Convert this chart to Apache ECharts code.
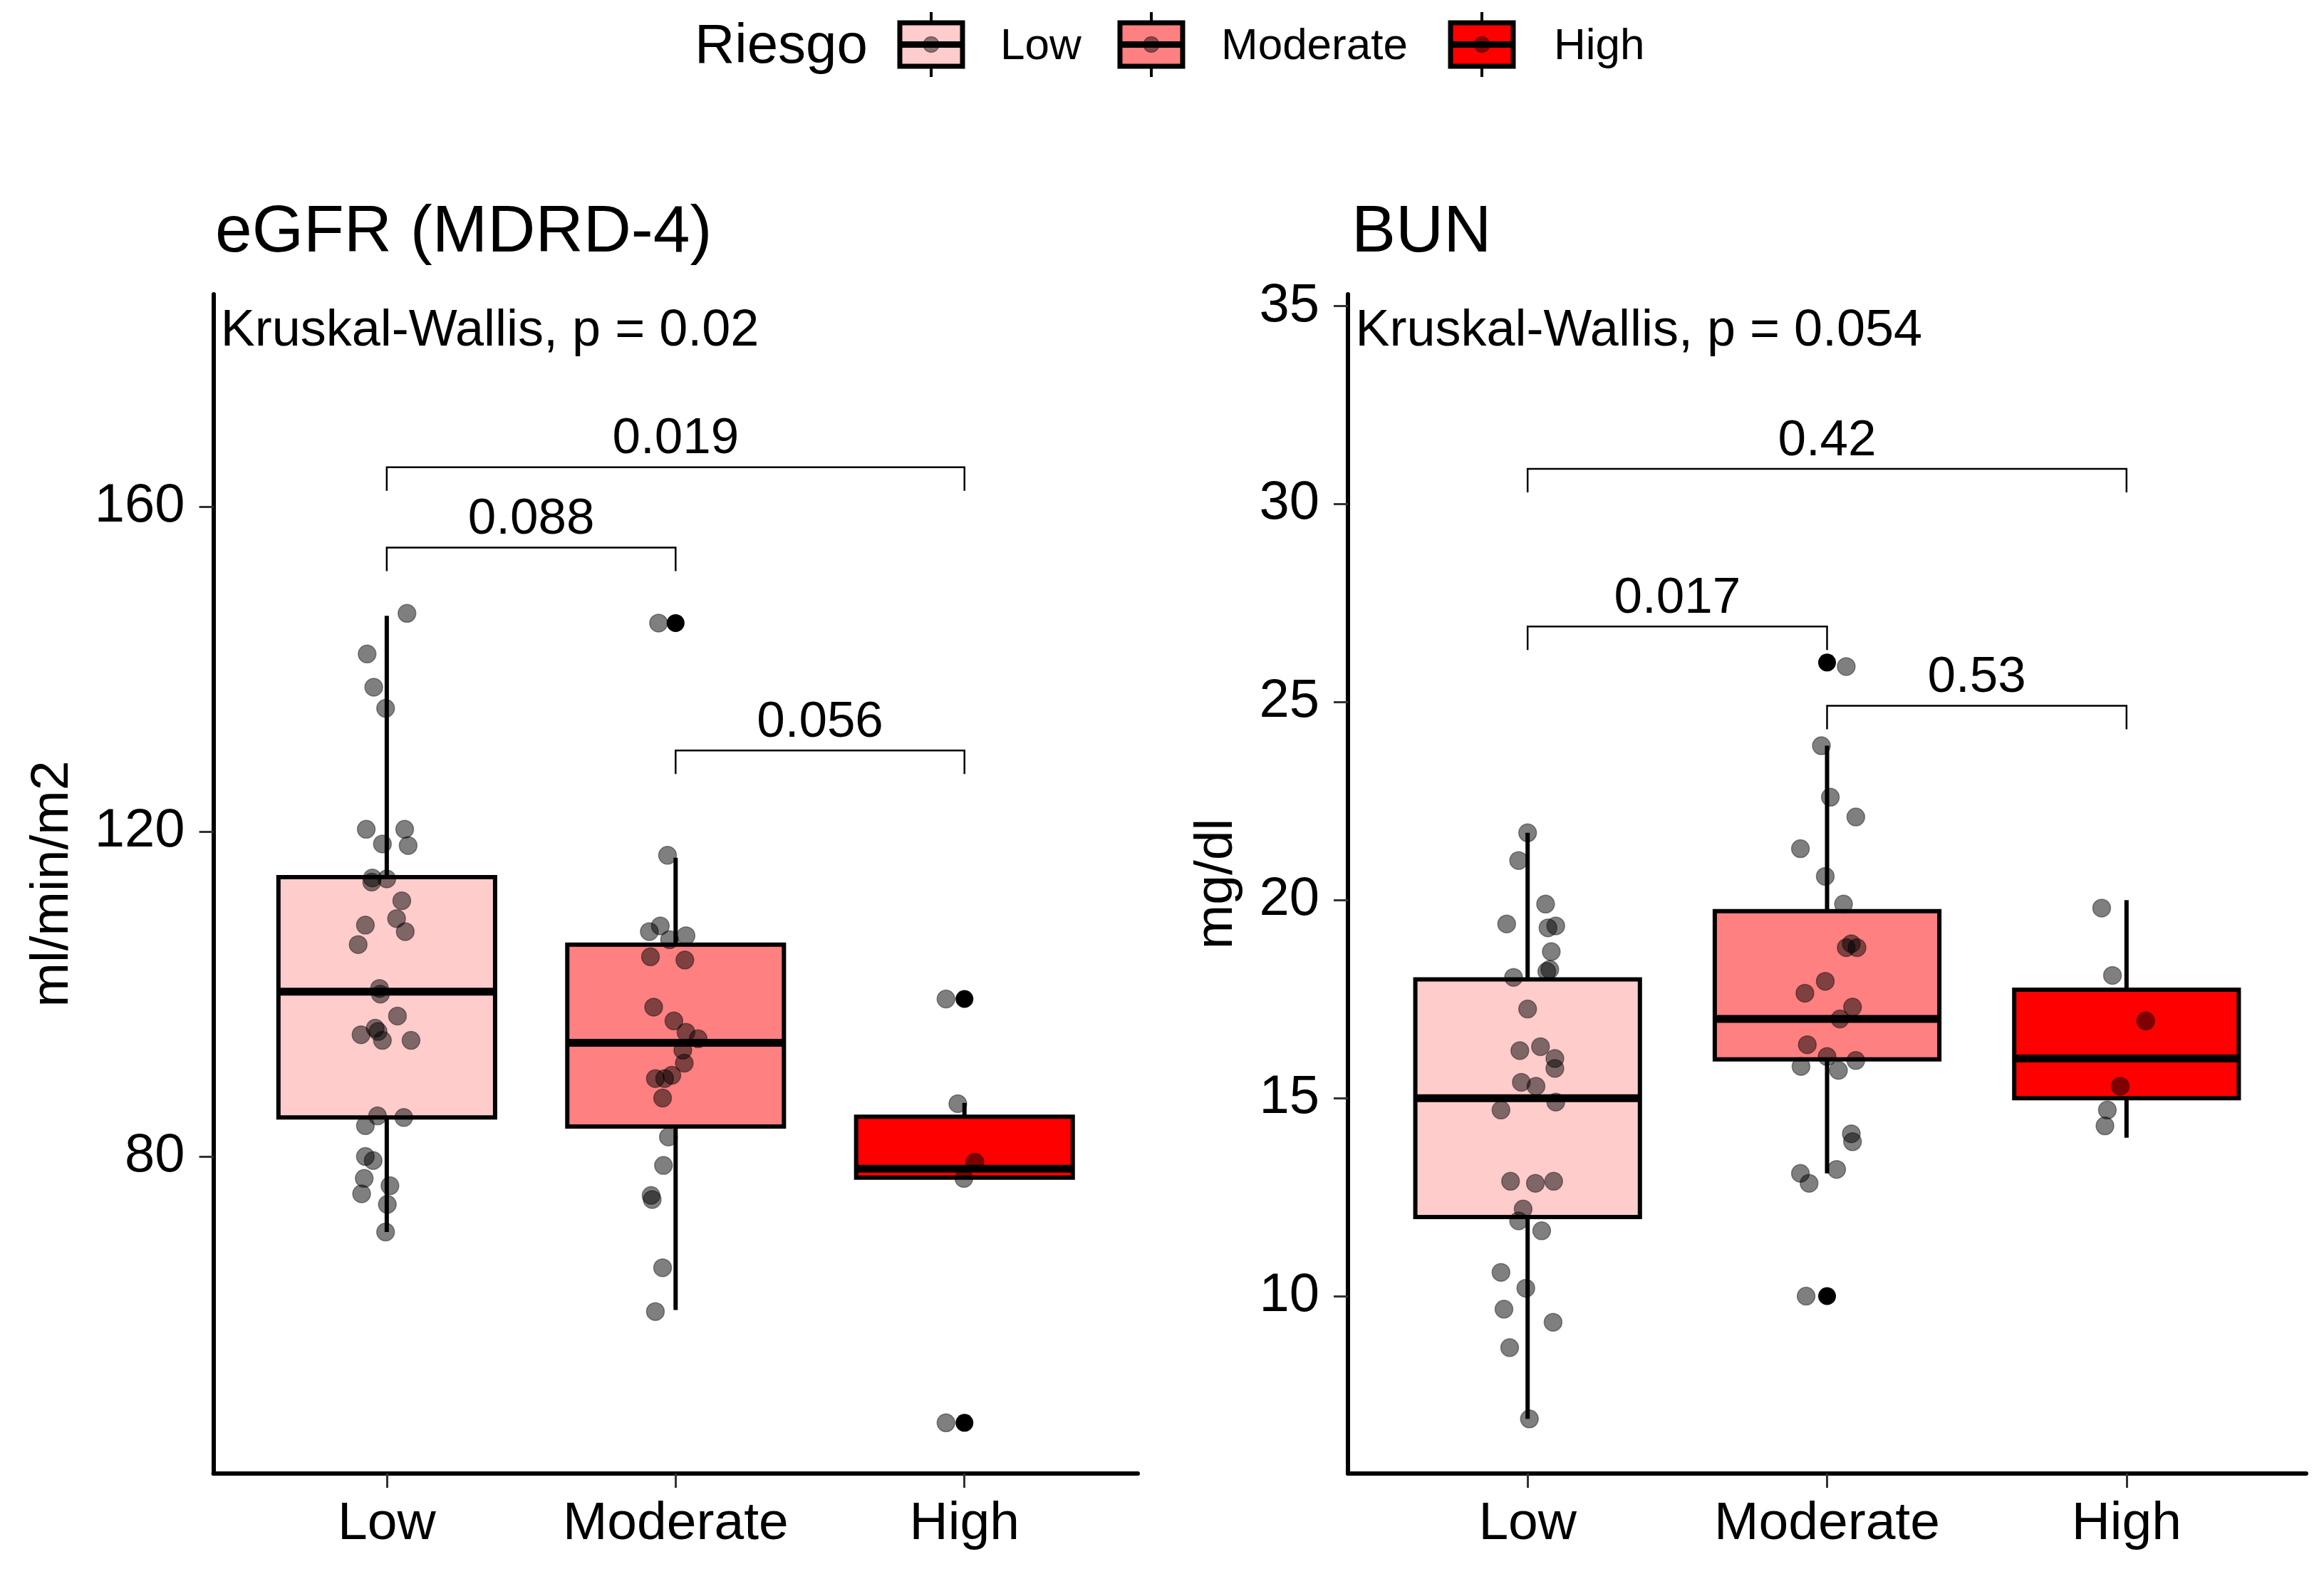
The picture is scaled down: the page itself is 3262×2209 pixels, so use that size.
<!DOCTYPE html>
<html>
<head>
<meta charset="utf-8">
<script src="https://cdn.jsdelivr.net/npm/echarts@6/dist/echarts.min.js"></script>
<style>
html,body{margin:0;padding:0;background:#fff;}
#chart{width:3262px;height:2209px;}
</style>
</head>
<body>
<div id="chart"></div>
<script>
// ---------------- DATA ----------------
const categories = ['Low', 'Moderate', 'High'];
const legendTitle = 'Riesgo';
const panelTitles = ['eGFR (MDRD-4)', 'BUN'];
const yAxisNames = ['ml/min/m2', 'mg/dl'];

// eGFR box stats: [lower whisker, Q1, median, Q3, upper whisker]
const egfrBox = [
  [70.7, 84.8, 100.3, 114.4, 146.6],
  [61.1, 83.7, 94.0, 106.1, 116.8],
  [77.4, 77.4, 78.5, 84.9, 86.6]
];
const egfrOutliers = [[1, 145.7], [2, 99.4], [2, 47.2]];
const egfrLowVals = [146.9, 141.9, 137.8, 135.2, 120.3, 120.3, 118.5, 118.3, 114.3, 113.8, 114.2, 111.5, 108.5, 109.3, 107.7, 106.1, 100.7, 100.0, 97.3, 95.8, 95.0, 94.3, 94.3, 95.4, 85.0, 84.8, 83.8, 80.0, 79.5, 77.3, 76.4, 75.4, 74.1, 70.7];
const egfrLowJit  = [0.070, -0.068, -0.045, -0.004, -0.071, 0.062, -0.015, 0.074, -0.050, -0.052, 0.000, 0.052, -0.074, 0.034, 0.064, -0.099, -0.025, -0.022, 0.037, -0.040, -0.089, -0.015, 0.084, -0.030, -0.032, 0.059, -0.074, -0.074, -0.047, -0.078, 0.011, -0.087, 0.002, -0.004];
const egfrModVals = [145.7, 117.1, 107.7, 108.4, 106.7, 107.2, 104.2, 104.6, 98.4, 96.7, 95.3, 94.5, 93.1, 91.5, 90.0, 89.6, 89.6, 87.2, 82.4, 78.9, 75.2, 74.7, 66.3, 60.9];
const egfrModJit  = [-0.059, -0.028, -0.091, -0.053, -0.021, 0.036, 0.032, -0.087, -0.076, -0.006, 0.036, 0.078, 0.025, 0.030, -0.013, -0.070, -0.038, -0.045, -0.025, -0.042, -0.085, -0.081, -0.045, -0.070];
const egfrHighVals = [99.4, 86.5, 79.3, 77.3, 47.2];
const egfrHighJit  = [-0.064, -0.023, 0.036, -0.002, -0.064];
const egfrPairs = [[0, 2], [0, 1], [1, 2]];
const egfrPY = [164.9, 155.0, 130.0];
const egfrPLabels = ['0.019', '0.088', '0.056'];
const egfrKW = 'Kruskal-Wallis, p = 0.02';
const egfrKWPos = [-0.575, 181.6];
const egfrYRange = [40.95, 186.2];
const egfrYTicks = [80, 120, 160];

// BUN
const bunBox = [
  [6.9, 12.0, 15.0, 18.0, 21.7],
  [13.1, 15.98, 17.0, 19.72, 23.9],
  [14.0, 15.0, 16.0, 17.74, 20.0]
];
const bunOutliers = [[1, 26.0], [1, 10.0]];
const bunLowVals = [21.7, 21.0, 19.9, 19.4, 19.3, 19.35, 18.7, 18.05, 18.2, 18.25, 17.25, 16.2, 16.3, 16.0, 15.75, 15.4, 15.3, 14.9, 14.7, 12.9, 12.85, 12.9, 12.2, 11.9, 11.65, 10.6, 10.2, 9.67, 9.34, 8.7, 6.9];
const bunLowJit  = [0.000, -0.030, 0.060, -0.070, 0.068, 0.094, 0.079, -0.047, 0.064, 0.074, 0.000, -0.026, 0.043, 0.091, 0.091, -0.021, 0.028, 0.094, -0.089, -0.057, 0.026, 0.087, -0.015, -0.030, 0.047, -0.089, -0.006, -0.079, 0.085, -0.060, 0.006];
const bunModVals = [25.9, 23.9, 22.6, 22.1, 21.3, 20.6, 19.9, 18.9, 18.8, 18.8, 17.95, 17.65, 17.3, 17.0, 16.35, 16.05, 15.95, 15.8, 15.7, 14.1, 13.9, 13.1, 13.2, 12.85, 10.0];
const bunModJit  = [0.064, -0.019, 0.011, 0.096, -0.089, -0.006, 0.055, 0.081, 0.064, 0.100, -0.006, -0.074, 0.085, 0.043, -0.066, 0.000, 0.096, -0.087, 0.038, 0.081, 0.085, -0.089, 0.032, -0.060, -0.070];
const bunHighVals = [19.8, 18.1, 16.95, 15.3, 14.7, 14.3];
const bunHighJit  = [-0.083, -0.047, 0.064, -0.021, -0.064, -0.072];
const bunPairs = [[0, 2], [0, 1], [1, 2]];
const bunPY = [30.89, 26.91, 24.91];
const bunPLabels = ['0.42', '0.017', '0.53'];
const bunKW = 'Kruskal-Wallis, p = 0.054';
const bunKWPos = [-0.575, 34.36];
const bunYRange = [5.52, 35.3];
const bunYTicks = [10, 15, 20, 25, 30, 35];

// ---------------- STYLE ----------------
const boxColors = ['#FFCCCC', '#FF8080', '#FF0000'];
const FONT = '"Liberation Sans", Arial, Helvetica, sans-serif';

const chart = echarts.init(document.getElementById('chart'), null, {renderer: 'canvas'});

function jitterData(groups) {
  const out = [];
  groups.forEach(function (g, ci) {
    g.vals.forEach(function (v, i) { out.push([ci + g.jit[i], v]); });
  });
  return out;
}

function renderBox(params, api) {
  const x = api.value(0);
  const mn = api.value(1), q1 = api.value(2), md = api.value(3), q3 = api.value(4), mx = api.value(5);
  const ci = api.value(6);
  const hw = 0.375;
  const tl = api.coord([x - hw, q3]);
  const br = api.coord([x + hw, q1]);
  const top = api.coord([x, mx]);
  const bot = api.coord([x, mn]);
  const mL = api.coord([x - hw, md]);
  const mR = api.coord([x + hw, md]);
  return {
    type: 'group',
    children: [
      {type: 'line', shape: {x1: top[0], y1: top[1], x2: top[0], y2: tl[1]}, style: {stroke: '#000', lineWidth: 6}},
      {type: 'line', shape: {x1: bot[0], y1: br[1], x2: bot[0], y2: bot[1]}, style: {stroke: '#000', lineWidth: 6}},
      {type: 'rect', shape: {x: tl[0], y: tl[1], width: br[0] - tl[0], height: br[1] - tl[1]},
        style: {fill: boxColors[ci], stroke: '#000', lineWidth: 6}},
      {type: 'line', shape: {x1: mL[0], y1: mL[1], x2: mR[0], y2: mR[1]}, style: {stroke: '#000', lineWidth: 11}}
    ]
  };
}

function makeBracketRenderer(labels) {
  return function (params, api) {
    const x1 = api.value(0), x2 = api.value(1), y = api.value(2);
    const a = api.coord([x1, y]);
    const b = api.coord([x2, y]);
    const tip = 33;
    return {
      type: 'group',
      children: [
        {type: 'polyline', shape: {points: [[a[0], a[1] + tip], [a[0], a[1]], [b[0], b[1]], [b[0], b[1] + tip]]},
          style: {stroke: '#000', lineWidth: 2.5, fill: null}},
        {type: 'text', style: {x: (a[0] + b[0]) / 2, y: a[1] - 39, text: labels[params.dataIndex],
          fill: '#000', font: '71px ' + FONT, align: 'center', verticalAlign: 'middle'}}
      ]
    };
  };
}

function makeTextRenderer(txt) {
  return function (params, api) {
    const p = api.coord([api.value(0), api.value(1)]);
    return {type: 'text', style: {x: p[0], y: p[1], text: txt, fill: '#000',
      font: '72px ' + FONT, align: 'left', verticalAlign: 'middle'}};
  };
}

function panelSeries(gi, box, outliers, groups, pairs, py, plabels, kw, kwPos) {
  return [
    {
      type: 'custom', xAxisIndex: gi, yAxisIndex: gi,
      renderItem: renderBox,
      encode: {x: 0, y: 3},
      data: box.map(function (b, i) { return [i].concat(b).concat([i]); }),
      clip: false, silent: true, z: 2
    },
    {
      type: 'scatter', xAxisIndex: gi, yAxisIndex: gi,
      data: outliers.map(function (o) { return [o[0], o[1]]; }),
      symbol: 'circle', symbolSize: 25,
      itemStyle: {color: '#000', opacity: 1},
      silent: true, z: 3
    },
    {
      type: 'scatter', xAxisIndex: gi, yAxisIndex: gi,
      data: jitterData(groups),
      symbol: 'circle', symbolSize: 25,
      itemStyle: {color: 'rgba(0,0,0,0.5)', borderColor: 'rgba(0,0,0,0.4)', borderWidth: 1.5, opacity: 1},
      silent: true, z: 4
    },
    {
      type: 'custom', xAxisIndex: gi, yAxisIndex: gi,
      renderItem: makeBracketRenderer(plabels),
      encode: {x: [0, 1], y: 2},
      data: pairs.map(function (p, i) { return [p[0], p[1], py[i]]; }),
      clip: false, silent: true, z: 5
    },
    {
      type: 'custom', xAxisIndex: gi, yAxisIndex: gi,
      renderItem: makeTextRenderer(kw),
      encode: {x: 0, y: 1},
      data: [kwPos],
      clip: false, silent: true, z: 5
    }
  ];
}

function xAxisFor(gi) {
  return {
    type: 'value', gridIndex: gi, min: -0.6, max: 2.6,
    splitLine: {show: false},
    axisLine: {show: true, onZero: false, lineStyle: {color: '#000', width: 6}},
    axisTick: {show: true, length: 20, customValues: [0, 1, 2], lineStyle: {color: '#333', width: 3}},
    axisLabel: {show: true, customValues: [0, 1, 2], margin: 34, fontSize: 75, color: '#000', fontFamily: FONT,
      formatter: function (v) { return categories[Math.round(v)]; }}
  };
}

function yAxisFor(gi, range, ticks, name, gap) {
  return {
    type: 'value', gridIndex: gi, min: range[0], max: range[1],
    name: name, nameLocation: 'middle', nameGap: gap,
    nameTextStyle: {fontSize: 75, color: '#000', fontFamily: FONT},
    splitLine: {show: false},
    axisLine: {show: true, onZero: false, lineStyle: {color: '#000', width: 6}},
    axisTick: {show: true, length: 20, customValues: ticks, lineStyle: {color: '#333', width: 3}},
    axisLabel: {show: true, customValues: ticks, margin: 40, fontSize: 76, color: '#000', fontFamily: FONT}
  };
}

// legend drawn as graphic keys (colors from boxColors)
const legendKeyX = [1263, 1572, 2036];
const legendTextX = [1404, 1714, 2181];
const legendGraphics = [
  {type: 'text', x: 975, y: 66, style: {text: legendTitle, font: '78px ' + FONT, fill: '#000', verticalAlign: 'middle'}}
];
categories.forEach(function (c, i) {
  const kx = legendKeyX[i], kw = 88, ky = 32, kh = 61, cx = kx + kw / 2, cy = ky + kh / 2;
  legendGraphics.push(
    {type: 'line', shape: {x1: cx, y1: 17, x2: cx, y2: 108}, style: {stroke: '#000', lineWidth: 4}},
    {type: 'rect', shape: {x: kx, y: ky, width: kw, height: kh}, style: {fill: boxColors[i], stroke: '#000', lineWidth: 7}},
    {type: 'line', shape: {x1: kx, y1: cy, x2: kx + kw, y2: cy}, style: {stroke: '#000', lineWidth: 9}},
    {type: 'circle', shape: {cx: cx, cy: cy, r: 11}, style: {fill: 'rgba(0,0,0,0.45)', stroke: 'rgba(0,0,0,0.35)', lineWidth: 1.5}},
    {type: 'text', x: legendTextX[i], y: 66, style: {text: c, font: '62px ' + FONT, fill: '#000', verticalAlign: 'middle'}}
  );
});

const titleGraphics = [
  {type: 'text', x: 302, y: 327, style: {text: panelTitles[0], font: '93px ' + FONT, fill: '#000', verticalAlign: 'middle'}},
  {type: 'text', x: 1897, y: 327, style: {text: panelTitles[1], font: '93px ' + FONT, fill: '#000', verticalAlign: 'middle'}}
];

const option = {
  backgroundColor: '#fff',
  animation: false,
  grid: [
    {left: 299.6, top: 413, width: 1297.4, height: 1655, containLabel: false},
    {left: 1892, top: 413, width: 1345, height: 1655, containLabel: false}
  ],
  xAxis: [xAxisFor(0), xAxisFor(1)],
  yAxis: [
    yAxisFor(0, egfrYRange, egfrYTicks, yAxisNames[0], 188),
    yAxisFor(1, bunYRange, bunYTicks, yAxisNames[1], 146)
  ],
  graphic: legendGraphics.concat(titleGraphics),
  series: [].concat(
    panelSeries(0, egfrBox, egfrOutliers,
      [{vals: egfrLowVals, jit: egfrLowJit}, {vals: egfrModVals, jit: egfrModJit}, {vals: egfrHighVals, jit: egfrHighJit}],
      egfrPairs, egfrPY, egfrPLabels, egfrKW, egfrKWPos),
    panelSeries(1, bunBox, bunOutliers,
      [{vals: bunLowVals, jit: bunLowJit}, {vals: bunModVals, jit: bunModJit}, {vals: bunHighVals, jit: bunHighJit}],
      bunPairs, bunPY, bunPLabels, bunKW, bunKWPos)
  )
};
chart.setOption(option);
</script>
</body>
</html>
